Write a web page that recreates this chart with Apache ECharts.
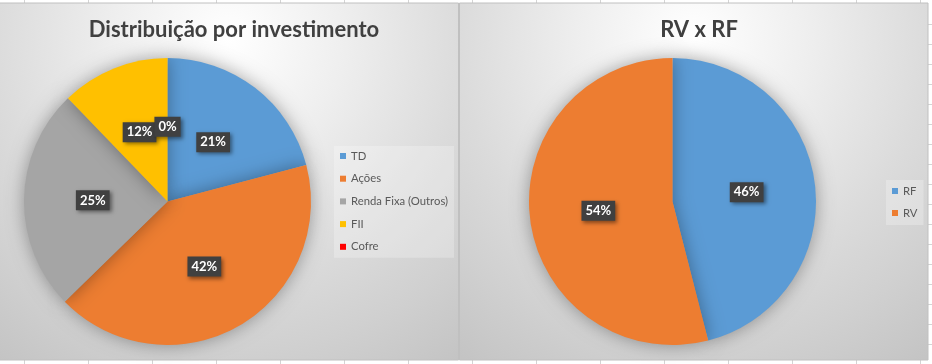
<!DOCTYPE html>
<html>
<head>
<meta charset="utf-8">
<script src="https://cdn.jsdelivr.net/npm/echarts@6/dist/echarts.min.js"></script>
<style>
html,body{margin:0;padding:0;background:#ffffff;}
#c{width:932px;height:364px;}
</style>
</head>
<body>
<div id="c"></div>
<script>
// ---- data ----
const title1 = 'Distribuição por investimento';
const cats1 = ['TD', 'Ações', 'Renda Fixa (Outros)', 'FII', 'Cofre'];
const vals1 = [20.9, 41.8, 25.1, 12.2, 0];
const colors1 = ['#5b9bd5', '#ed7d31', '#a5a5a5', '#ffc000', '#ff0000'];

const title2 = 'RV x RF';
const cats2 = ['RF', 'RV'];
const vals2 = [46, 54];
const colors2 = ['#5b9bd5', '#ed7d31'];

// ---- decoration (spreadsheet cells + chart backgrounds) ----
const FONT = 'Lato, "Open Sans", sans-serif';
const bgFill = {
  type: 'radial', x: 0.5, y: 0.1, r: 1.1,
  colorStops: [
    {offset: 0, color: '#ffffff'},
    {offset: 0.3, color: '#eeeeee'},
    {offset: 0.6, color: '#dbdbdb'},
    {offset: 0.8, color: '#d0d0d0'},
    {offset: 1, color: '#c4c4c4'}
  ]
};
const graphics = [];
for (let x = 24; x < 932; x += 64) {
  graphics.push({type: 'line', z: -5, shape: {x1: x + 0.5, y1: 0, x2: x + 0.5, y2: 3}, style: {stroke: '#d4d4d4', lineWidth: 1}});
  graphics.push({type: 'line', z: -5, shape: {x1: x + 0.5, y1: 360, x2: x + 0.5, y2: 364}, style: {stroke: '#d4d4d4', lineWidth: 1}});
}
for (let y = 24; y < 364; y += 20) {
  graphics.push({type: 'line', z: -5, shape: {x1: 928, y1: y + 0.5, x2: 932, y2: y + 0.5}, style: {stroke: '#d4d4d4', lineWidth: 1}});
}
graphics.push({type: 'rect', z: -4, shape: {x: -1, y: 3, width: 459.5, height: 357}, style: {fill: bgFill, stroke: '#c0c0c0', lineWidth: 1}});
graphics.push({type: 'rect', z: -4, shape: {x: 459.5, y: 3, width: 468.5, height: 357}, style: {fill: bgFill, stroke: '#c0c0c0', lineWidth: 1}});

const labelStyle = {
  show: true,
  position: 'inside',
  formatter: p => Math.round(p.percent) + '%',
  color: '#ffffff',
  fontFamily: FONT,
  fontWeight: 'bold',
  fontSize: 13,
  backgroundColor: '#404040',
  padding: [4, 4, 3, 4],
  shadowColor: 'rgba(0,0,0,0.45)',
  shadowBlur: 4,
  shadowOffsetX: 2,
  shadowOffsetY: 2
};

const chart = echarts.init(document.getElementById('c'), null, {renderer: 'canvas'});
chart.setOption({
  animation: false,
  backgroundColor: 'transparent',
  graphic: graphics,
  title: [
    {text: title1, left: 229, top: 14, textAlign: 'center',
     textStyle: {fontFamily: FONT, fontWeight: 'bold', fontSize: 22, color: '#404040'}},
    {text: title2, left: 694, top: 14, textAlign: 'center',
     textStyle: {fontFamily: FONT, fontWeight: 'bold', fontSize: 22, color: '#404040'}}
  ],
  legend: [
    {data: cats1, orient: 'vertical', left: 334, top: 146, padding: [4, 6, 5, 6],
     backgroundColor: 'rgba(255,255,255,0.25)', icon: 'rect', itemWidth: 6, itemHeight: 6,
     itemGap: 10.7, selectedMode: false,
     textStyle: {fontFamily: FONT, fontSize: 11.3, color: '#595959', lineHeight: 12}},
    {data: cats2, orient: 'vertical', left: 886, top: 180, padding: [5, 6, 6, 6],
     backgroundColor: 'rgba(255,255,255,0.25)', icon: 'rect', itemWidth: 6, itemHeight: 6,
     itemGap: 10, selectedMode: false,
     textStyle: {fontFamily: FONT, fontSize: 11.3, color: '#595959', lineHeight: 12}}
  ],
  series: [
    {
      type: 'pie', name: title1, center: [167.5, 201.5], radius: 143.5,
      startAngle: 90, clockwise: true, avoidLabelOverlap: false,
      labelLayout: {hideOverlap: false},
      label: labelStyle, labelLine: {show: false},
      emphasis: {disabled: true},
      itemStyle: {shadowColor: 'rgba(0,0,0,0.35)', shadowBlur: 18},
      data: cats1.map((n, i) => ({name: n, value: vals1[i], itemStyle: {color: colors1[i]}}))
    },
    {
      type: 'pie', name: title2, center: [672.5, 201.5], radius: 143.5,
      startAngle: 90, clockwise: true, avoidLabelOverlap: false,
      labelLayout: {hideOverlap: false},
      label: labelStyle, labelLine: {show: false},
      emphasis: {disabled: true},
      itemStyle: {shadowColor: 'rgba(0,0,0,0.35)', shadowBlur: 18},
      data: cats2.map((n, i) => ({name: n, value: vals2[i], itemStyle: {color: colors2[i]}}))
    }
  ]
});
</script>
</body>
</html>
